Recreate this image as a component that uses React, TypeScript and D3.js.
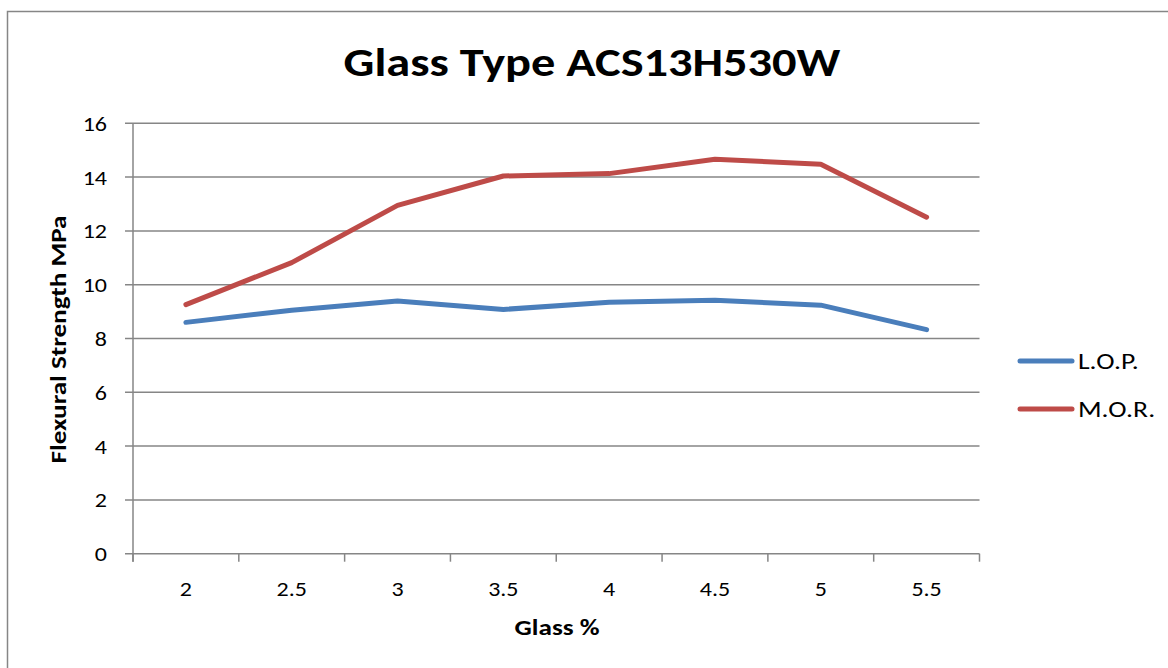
import React from "react";
import * as d3 from "d3";

const categories = ["2", "2.5", "3", "3.5", "4", "4.5", "5", "5.5"];
const lopValues = [8.6, 9.05, 9.39, 9.08, 9.35, 9.42, 9.24, 8.33];
const morValues = [9.26, 10.82, 12.95, 14.04, 14.13, 14.66, 14.48, 12.51];
const yTicks = [0, 2, 4, 6, 8, 10, 12, 14, 16];
const seriesNames = ["L.O.P.", "M.O.R."];
const seriesColors = ["#4A7EBB", "#BE4B48"];

const W = 1168;
const H = 668;
const FONT = "Carlito, Calibri, Lato, 'Open Sans', sans-serif";

type TxtProps = {
  x: number;
  y: number;
  size: number;
  sx?: number;
  anchor?: string;
  bold?: boolean;
  rotate?: number;
  children: React.ReactNode;
};

function Txt({ x, y, size, sx = 1.18, anchor = "start", bold = false, rotate = 0, children }: TxtProps) {
  return (
    <text
      transform={`translate(${x},${y}) rotate(${rotate}) scale(${sx},1)`}
      textAnchor={anchor}
      fontFamily={FONT}
      fontWeight={bold ? "bold" : "normal"}
      fontSize={size}
      fill="#000"
    >
      {children}
    </text>
  );
}

export default function App() {
  const left = 133, right = 979.5, top = 123.3, bottom = 553.7;
  const x = d3.scaleBand<string>().domain(categories).range([left, right]);
  const y = d3.scaleLinear().domain([0, 16]).range([bottom, top]);
  const cx = (c: string) => (x(c) as number) + x.bandwidth() / 2;
  const line = d3
    .line<number>()
    .x((_, i) => cx(categories[i]))
    .y((v) => y(v));
  const series = [lopValues, morValues];
  const grid = "#868686";
  const boundaries = d3.range(categories.length + 1).map((i) => left + i * x.bandwidth());

  return (
    <svg width={W} height={H} style={{ position: "absolute", left: 0, top: 0, background: "#fff" }}>
      <rect x={7.5} y={11.5} width={W + 20} height={H + 20} fill="#fff" stroke="#868686" strokeWidth={1.5} />
      <Txt x={592} y={76} size={41} anchor="middle" bold>
        Glass Type ACS13H530W
      </Txt>
      {yTicks.map((t) => (
        <g key={t}>
          <line x1={left - 8} x2={right} y1={y(t)} y2={y(t)} stroke={grid} strokeWidth={1.5} />
          <Txt x={left - 26} y={y(t) + 7.4} size={20} sx={1.2} anchor="end">
            {t}
          </Txt>
        </g>
      ))}
      <line x1={left} x2={left} y1={top} y2={bottom + 8} stroke={grid} strokeWidth={1.5} />
      {boundaries.map((b, i) => (
        <line key={i} x1={b} x2={b} y1={bottom} y2={bottom + 8} stroke={grid} strokeWidth={1.5} />
      ))}
      {categories.map((c) => (
        <Txt key={c} x={cx(c)} y={596} size={20} sx={1.2} anchor="middle">
          {c}
        </Txt>
      ))}
      <Txt x={557} y={635} size={23} anchor="middle" bold>
        Glass %
      </Txt>
      <text
        transform={`translate(66,339.5) rotate(-90) scale(1.18,1)`}
        textAnchor="middle"
        fontFamily={FONT}
        fontWeight="bold"
        fontSize={23}
      >
        Flexural Strength MPa
      </text>
      {series.map((s, i) => (
        <path
          key={i}
          d={line(s) as string}
          fill="none"
          stroke={seriesColors[i]}
          strokeWidth={5}
          strokeLinecap="round"
          strokeLinejoin="round"
        />
      ))}
      {seriesNames.map((n, i) => (
        <g key={n}>
          <line x1={1020} x2={1072} y1={361 + i * 48} y2={361 + i * 48} stroke={seriesColors[i]} strokeWidth={5} strokeLinecap="round" />
          <Txt x={1078} y={369 + i * 47.7} size={23} sx={1.2}>
            {n}
          </Txt>
        </g>
      ))}
    </svg>
  );
}
